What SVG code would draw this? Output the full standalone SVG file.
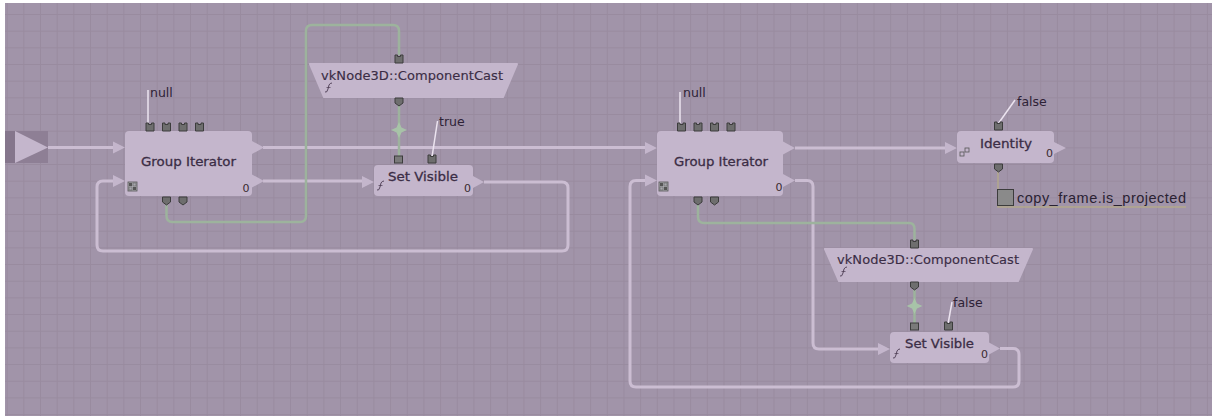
<svg xmlns="http://www.w3.org/2000/svg" width="1212" height="416" viewBox="0 0 1212 416">
<defs>
<pattern id="grid" x="6.67" y="-2.67" width="16.67" height="16.67" patternUnits="userSpaceOnUse">
<rect width="16.67" height="16.67" fill="#a194a9"/>
<path d="M0,0.5 H16.67 M0.5,0 V16.67" stroke="#998b9f" stroke-width="1" fill="none"/>
</pattern>
<g id="pcup"><path d="M0,0 H2.5 V1.5 H5.5 V0 H8 V8 H0 Z" fill="#6e6e6e" stroke="#3c3c3c" stroke-width="1"/></g>
<g id="pshield"><path d="M0,0 H8 V5 L4,8 L0,5 Z" fill="#6e6e6e" stroke="#3c3c3c" stroke-width="1"/></g>
<g id="psq"><rect x="0" y="0" width="8" height="7" fill="#7a7a7a" stroke="#3c3c3c" stroke-width="1"/></g>
<g id="gicon"><rect x="0" y="0" width="9" height="9" fill="#a8a8ae" stroke="#555" stroke-width="0.8"/><path d="M1,1 h3 v3 h-3 z M5,5 h3 v3 h-3 z" fill="#555"/><path d="M5,1 h3 v3 h-3 z M1,5 h3 v3 h-3 z" fill="none" stroke="#666" stroke-width="0.6"/></g>
<g id="ficon"><path d="M0,9 q2,1 3,-3 l1,-4 q1,-2 3,-2" fill="none" stroke="#4a3a50" stroke-width="0.9"/><path d="M1.5,4.5 h4" stroke="#4a3a50" stroke-width="0.7"/></g>
</defs>
<style>
.node{fill:#c4b6cc;}
.arr{fill:#c4b6cc;}
.title{font-family:"DejaVu Sans",sans-serif;font-size:13px;fill:#3b2d45;stroke:#3b2d45;stroke-width:0.3;}
.cast{font-family:"DejaVu Sans",sans-serif;font-size:13px;fill:#3b2d45;stroke:#3b2d45;stroke-width:0.15;}
.lbl{font-family:"DejaVu Sans",sans-serif;font-size:12.5px;fill:#2e2236;}
.zero{font-family:"DejaVu Sans",sans-serif;font-size:11px;fill:#3a2a30;}
.conn{fill:none;stroke:#cbbdd2;stroke-width:3;}
.green{fill:none;stroke:#9db39d;stroke-width:2.5;}
.lline{fill:none;stroke:#ece4f0;stroke-width:1.5;}
</style>
<rect width="1212" height="416" fill="#ffffff"/>
<rect x="5" y="3" width="1207" height="413" fill="url(#grid)"/>

<g id="connectors">
<path class="conn" d="M48,147.5 H113"/>
<path class="conn" d="M263,147.5 H645"/>
<path class="conn" d="M263,181 H362"/>
<path class="conn" d="M484,182 H562 Q568,182 568,188 V245 Q568,251 562,251 H103 Q97,251 97,245 V187 Q97,181 103,181 H113"/>
<path class="conn" d="M795,148 H945"/>
<path class="conn" d="M795,180.5 H807 Q813,180.5 813,186.5 V343 Q813,349 819,349 H878"/>
<path class="conn" d="M1000,348.5 H1013 Q1019,348.5 1019,354.5 V381 Q1019,387 1013,387 H636 Q630,387 630,381 V186.5 Q630,180.5 636,180.5 H645"/>
<path class="green" d="M166.5,205 V216 Q166.5,222 172.5,222 H300 Q306,222 306,216 V31 Q306,25 312,25 H393 Q399,25 399,31 V55"/>
<path class="green" d="M399,105 V157"/>
<path class="green" d="M698,205 V217 Q698,223 704,223 H909 Q914.5,223 914.5,229 V240"/>
<path class="green" d="M914.5,290 V323"/>
<path d="M399,122 L401.5,127.5 L407,130 L401.5,132.5 L399,138 L396.5,132.5 L391,130 L396.5,127.5 Z" fill="#a9c6a9" opacity="0.9"/>
<path d="M914.5,298 L917,303.5 L922.5,306 L917,308.5 L914.5,314 L912,308.5 L906.5,306 L912,303.5 Z" fill="#a9c6a9" opacity="0.9"/>
<path d="M998,172 V207 H1186" fill="none" stroke="#b3a88c" stroke-width="1.5"/>
<path class="lline" d="M148,124 V90"/>
<path class="lline" d="M680,124 V92"/>
<path class="lline" d="M432,157 L437.5,121"/>
<path class="lline" d="M998,124 L1015,100"/>
<path class="lline" d="M948,324 L952,302"/>
</g>

<g id="start">
<rect x="5" y="131" width="43" height="32" fill="#8e7f95"/>
<rect x="5" y="131" width="10" height="32" fill="#85768c"/>
<polygon points="15,131 48,147.5 15,163" fill="#c4b6cc"/>
</g>

<g id="group-iterator-1">
<rect class="node" x="125" y="131" width="127" height="65" rx="4"/>
<polygon class="arr" points="113,141.5 125,147.5 113,153.5"/>
<polygon class="arr" points="113,175 125,181 113,187"/>
<polygon class="arr" points="252,141 264,147.5 252,154"/>
<polygon class="arr" points="252,174.5 264,181 252,187.5"/>
<use href="#pcup" x="146" y="123"/>
<use href="#pcup" x="162.5" y="123"/>
<use href="#pcup" x="179" y="123"/>
<use href="#pcup" x="195.5" y="123"/>
<use href="#pshield" x="162.5" y="197"/>
<use href="#pshield" x="179" y="197"/>
<use href="#gicon" x="128" y="182"/>
<text class="title" x="141" y="166" textLength="95" lengthAdjust="spacingAndGlyphs">Group Iterator</text>
<text class="zero" x="242.5" y="191.5">0</text>
<text class="lbl" x="150" y="96.5">null</text>
</g>

<g id="component-cast-1">
<path class="node" d="M310,64 H517 L503,97 H324 Z" stroke="#c4b6cc" stroke-width="2" stroke-linejoin="round"/>
<use href="#pcup" x="395" y="55"/>
<use href="#pshield" x="395" y="98"/>
<use href="#ficon" x="325" y="83"/>
<text class="cast" x="321" y="80" textLength="182" lengthAdjust="spacing">vkNode3D::ComponentCast</text>
</g>

<g id="set-visible-1">
<rect class="node" x="374" y="165" width="99" height="31" rx="4"/>
<polygon class="arr" points="362,176 374,182 362,188"/>
<polygon class="arr" points="473,176 484,182 473,188"/>
<use href="#psq" x="394.5" y="156"/>
<use href="#pcup" x="428" y="155"/>
<use href="#ficon" x="377" y="181"/>
<text class="title" x="388" y="181" textLength="70" lengthAdjust="spacingAndGlyphs">Set Visible</text>
<text class="zero" x="464" y="191.5">0</text>
<text class="lbl" x="439" y="126">true</text>
</g>

<g id="group-iterator-2">
<rect class="node" x="657" y="131" width="126" height="65" rx="4"/>
<polygon class="arr" points="645,142 657,148 645,154"/>
<polygon class="arr" points="645,174.5 657,180.5 645,186.5"/>
<polygon class="arr" points="783,141.5 795,148 783,154.5"/>
<polygon class="arr" points="783,174 795,180.5 783,187"/>
<use href="#pcup" x="677.5" y="123"/>
<use href="#pcup" x="694" y="123"/>
<use href="#pcup" x="710.5" y="123"/>
<use href="#pcup" x="727" y="123"/>
<use href="#pshield" x="694" y="197"/>
<use href="#pshield" x="710.5" y="197"/>
<use href="#gicon" x="659" y="182"/>
<text class="title" x="674" y="166" textLength="94" lengthAdjust="spacingAndGlyphs">Group Iterator</text>
<text class="zero" x="775.5" y="191">0</text>
<text class="lbl" x="683" y="96.5">null</text>
</g>

<g id="identity">
<rect class="node" x="957" y="131" width="97" height="32" rx="4"/>
<polygon class="arr" points="945,142 957,148 945,154"/>
<polygon class="arr" points="1054,142 1066,148 1054,154"/>
<use href="#pcup" x="994.5" y="122"/>
<use href="#pshield" x="994.5" y="164"/>
<g fill="none" stroke="#555" stroke-width="0.8"><rect x="960" y="152" width="4" height="4"/><rect x="965" y="148" width="4" height="4"/></g>
<text class="title" x="980" y="148" textLength="52" lengthAdjust="spacingAndGlyphs">Identity</text>
<text class="zero" x="1046" y="157">0</text>
<text class="lbl" x="1017" y="106">false</text>
</g>

<g id="copy-frame">
<rect x="997.5" y="189.5" width="16" height="16" fill="#8a8a8a" stroke="#3c3c3c" stroke-width="1"/>
<text x="1017" y="203" font-family="Liberation Sans, Arial, sans-serif" font-size="14.5" fill="#2a2233" textLength="169" lengthAdjust="spacing">copy_frame.is_projected</text>
</g>

<g id="component-cast-2">
<path class="node" d="M825,249 H1032 L1018,281 H839 Z" stroke="#c4b6cc" stroke-width="2" stroke-linejoin="round"/>
<use href="#pcup" x="910.5" y="240"/>
<use href="#pshield" x="910.5" y="282"/>
<use href="#ficon" x="840" y="267"/>
<text class="cast" x="837" y="264" textLength="182" lengthAdjust="spacing">vkNode3D::ComponentCast</text>
</g>

<g id="set-visible-2">
<rect class="node" x="890" y="332" width="99" height="31" rx="4"/>
<polygon class="arr" points="878,343 890,349 878,355"/>
<polygon class="arr" points="989,342.5 1000,348.5 989,354.5"/>
<use href="#psq" x="910.5" y="323"/>
<use href="#pcup" x="944.5" y="322"/>
<use href="#ficon" x="893" y="349"/>
<text class="title" x="905" y="348" textLength="69" lengthAdjust="spacingAndGlyphs">Set Visible</text>
<text class="zero" x="981" y="358">0</text>
<text class="lbl" x="953" y="307">false</text>
</g>
</svg>
